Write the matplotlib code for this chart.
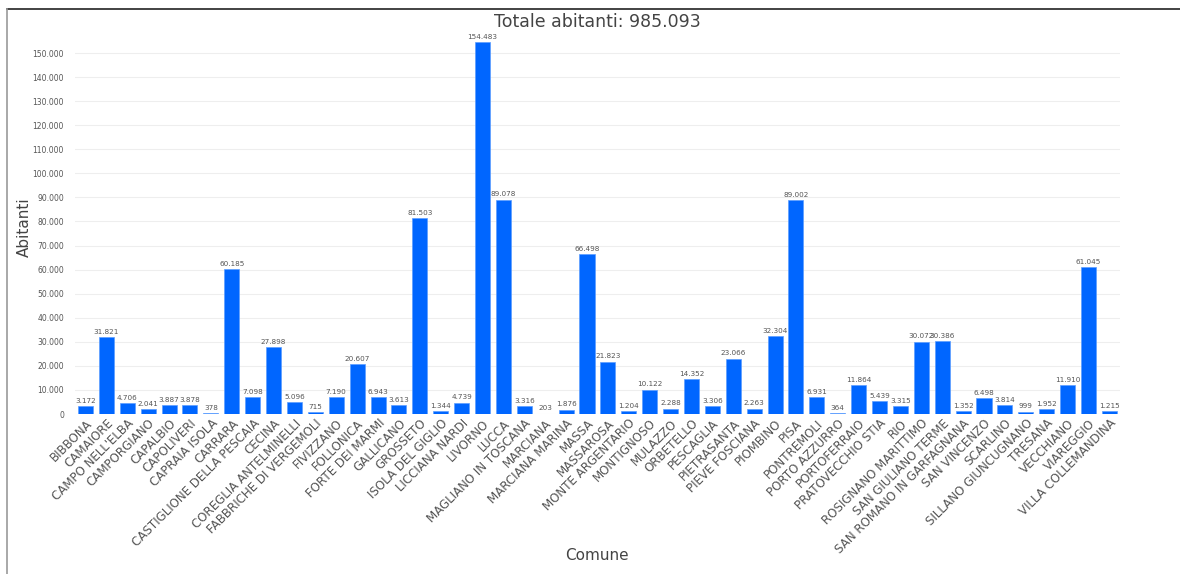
import matplotlib.pyplot as plt
from matplotlib.lines import Line2D
from matplotlib.ticker import FuncFormatter

comuni = ["BIBBONA", "CAMAIORE", "CAMPO NELL'ELBA", "CAMPORGIANO", "CAPALBIO",
          "CAPOLIVERI", "CAPRAIA ISOLA", "CARRARA", "CASTIGLIONE DELLA PESCAIA",
          "CECINA", "COREGLIA ANTELMINELLI", "FABBRICHE DI VERGEMOLI", "FIVIZZANO",
          "FOLLONICA", "FORTE DEI MARMI", "GALLICANO", "GROSSETO", "ISOLA DEL GIGLIO",
          "LICCIANA NARDI", "LIVORNO", "LUCCA", "MAGLIANO IN TOSCANA", "MARCIANA",
          "MARCIANA MARINA", "MASSA", "MASSAROSA", "MONTE ARGENTARIO", "MONTIGNOSO",
          "MULAZZO", "ORBETELLO", "PESCAGLIA", "PIETRASANTA", "PIEVE FOSCIANA",
          "PIOMBINO", "PISA", "PONTREMOLI", "PORTO AZZURRO", "PORTOFERRAIO",
          "PRATOVECCHIO STIA", "RIO", "ROSIGNANO MARITTIMO", "SAN GIULIANO TERME",
          "SAN ROMANO IN GARFAGNANA", "SAN VINCENZO", "SCARLINO", "SILLANO GIUNCUGNANO",
          "TRESANA", "VECCHIANO", "VIAREGGIO", "VILLA COLLEMANDINA"]
abitanti = [3172, 31821, 4706, 2041, 3887,
            3878, 378, 60185, 7098,
            27898, 5096, 715, 7190,
            20607, 6943, 3613, 81503, 1344,
            4739, 154483, 89078, 3316, 203,
            1876, 66498, 21823, 1204, 10122,
            2288, 14352, 3306, 23066, 2263,
            32304, 89002, 6931, 364, 11864,
            5439, 3315, 30072, 30386,
            1352, 6498, 3814, 999,
            1952, 11910, 61045, 1215]
totale = "985.093"

def punto(v):
    # separatore delle migliaia all'italiana
    return f"{int(v):,}".replace(",", ".")

plt.rcParams['font.family'] = ['DejaVu Sans']

fig = plt.figure(figsize=(11.8, 5.74), dpi=100)
ax = fig.add_axes([0.0636, 0.2787, 0.8854, 0.652])

x = list(range(len(comuni)))
bars = ax.bar(x, abitanti, width=0.72, color='#0066ff', edgecolor='#5c9dff',
              linewidth=0.5, zorder=3)
for xi, v in zip(x, abitanti):
    ax.text(xi, v + 900, punto(v), ha='center', va='bottom', fontsize=5.2,
            color='#555555', zorder=4)

ax.set_xlim(-0.5, len(comuni) - 0.5)
ax.set_ylim(0, 155500)
ax.set_yticks(range(0, 150001, 10000))
ax.yaxis.set_major_formatter(FuncFormatter(lambda v, p: punto(v)))
ax.grid(axis='y', color='#eeeeee', linewidth=0.8, zorder=0)
for s in ax.spines.values():
    s.set_visible(False)
ax.tick_params(axis='y', length=0, pad=8, labelsize=5.5, labelcolor='#555555')
ax.tick_params(axis='x', length=0, pad=2)
ax.set_xticks(x)
ax.set_xticklabels(comuni, rotation=45, ha='right', rotation_mode='anchor',
                   fontsize=8.6, color='#555555')

ax.set_ylabel('Abitanti', fontsize=11, color='#444444')
ax.yaxis.set_label_coords(-0.041, 0.5)
fig.text(0.506, 0.02, 'Comune', ha='center', va='bottom', fontsize=11,
         color='#444444')
fig.text(0.506, 0.962, 'Totale abitanti: ' + totale, ha='center', va='center',
         fontsize=12.5, color='#444444')

# cornice
fig.add_artist(Line2D([0.006, 1.0], [0.984, 0.984], color='#222222', linewidth=1.2))
fig.add_artist(Line2D([0.006, 0.006], [0.0, 0.984], color='#999999', linewidth=1.2))

fig.savefig('out.png', dpi=100, facecolor='white')
